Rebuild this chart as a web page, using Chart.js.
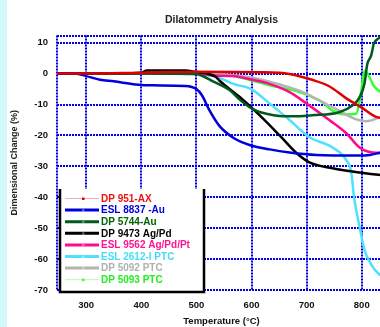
<!DOCTYPE html>
<html>
<head>
<meta charset="utf-8">
<script src="https://cdn.jsdelivr.net/npm/chart.js@4"></script>
<style>
    html, body { margin: 0; padding: 0; width: 380px; height: 327px; overflow: hidden; background: #fff; }
    #strip { position: absolute; left: 0; top: 0; width: 7px; height: 327px; background: #d2f8fc; }
    #wrap { position: absolute; left: 0; top: 0; width: 386px; height: 327px; }
</style>
</head>
<body>
<div id="strip"></div>
<div id="wrap"><canvas id="chart" width="386" height="327"></canvas></div>
<script>
// ── Datos (temperatura °C, cambio dimensional %) ─────────────────────────
const seriesNames = ['DP 951-AX', 'ESL 8837 -Au', 'DP 5744-Au', 'DP 9473 Ag/Pd',
    'ESL 9562 Ag/Pd/Pt', 'ESL 2612-I PTC', 'DP 5092 PTC', 'DP 5093 PTC'];

const dp951 = [[247,0],[300,0],[400,0.3],[500,0.6],[650,0.3],[680,-0.5],[710,-2],[740,-4],[772,-8],[800,-11],[826,-14],[844,-14.5]];
const esl8837 = [[247,0],[280,0],[300,-0.8],[325,-2],[350,-2.5],[390,-3.5],[420,-3.8],[480,-4],[500,-5],[510,-7],[524,-12],[542,-17],[569,-21],[595,-23],[633,-24.5],[669,-25.5],[718,-26.3],[790,-26.5],[815,-26.3],[835,-25.5],[844,-25.3]];
const dp5744 = [[247,0],[400,0],[500,-0.2],[509,-0.6],[530,-2.5],[560,-5.3],[579,-8.5],[602,-11.5],[627,-13],[651,-13.7],[687,-13.8],[710,-13.5],[759,-12.5],[783,-10.3],[796,-7.7],[805,-3.2],[810,3],[817,5.8],[822,9.7],[832,11.6],[844,14]];
const dp9473 = [[247,0],[300,0],[400,0.3],[410,1],[480,1],[500,0.5],[520,0],[535,-1],[542,-2.3],[578,-7.5],[615,-13.5],[651,-20],[681,-25.6],[705,-28.7],[747,-30.6],[796,-32],[835,-32.8],[844,-32.9]];
const esl9562 = [[247,0],[440,0],[500,0],[530,-0.6],[566,-0.8],[597,-1.8],[627,-3],[669,-6],[700,-9.7],[741,-15],[772,-19.3],[796,-23.9],[819,-25.5],[844,-25.7]];
const esl2612 = [[247,0],[400,0],[500,0],[520,-0.5],[542,-1.4],[570,-3.5],[597,-4.8],[633,-9.7],[669,-15],[705,-20.6],[747,-23.9],[772,-28],[781,-32],[786,-40],[796,-49.5],[805,-57],[817,-61.7],[832,-65],[844,-66]];
const dp5092 = [[247,0],[500,0],[550,-0.3],[602,-1.3],[651,-3.5],[687,-5.5],[710,-7.5],[754,-11.5],[790,-14.8],[808,-15.4],[835,-14],[844,-13.5]];
const dp5093 = [[247,0],[500,0],[550,-0.3],[578,-1.2],[627,-3.5],[687,-6],[729,-9.3],[747,-12],[772,-13.2],[790,-13],[797,-8],[806,1],[815,-1.5],[822,-4],[835,-6],[844,-6.5]];

const xTicks = [300, 400, 500, 600, 700, 800];
const yTicks = [-70, -60, -50, -40, -30, -20, -10, 0, 10];

// ── Estilos ──────────────────────────────────────────────────────────────
const allSeries = [dp951, esl8837, dp5744, dp9473, esl9562, esl2612, dp5092, dp5093];
const lineColors = ['#e00000', '#0000dd', '#005a1e', '#000000', '#ff0a8c', '#4de1ff', '#b4b4b4', '#33ff33'];
const textColors = ['#ee1111', '#0000dd', '#006400', '#000000', '#ff1493', '#44ddf8', '#b0b0b0', '#22ee22'];
const legendLine = ['#f4b0b0', '#0000dd', '#005a1e', '#000000', '#ff0a8c', '#4de1ff', '#b4b4b4', '#b8f8b8'];
const legendWidth = [1, 3, 3, 3, 3, 3, 3, 1];
const gridBlue = '#0000e6';
const FONT = "'Liberation Sans', Arial, sans-serif";

// Leyenda dentro del área del gráfico
const insideLegend = {
    id: 'insideLegend',
    afterDraw(chart) {
        const ctx = chart.ctx;
        const ca = chart.chartArea;
        const x0 = ca.left + 2, y0 = 189, x1 = 205, y1 = ca.bottom + 3;
        ctx.save();
        ctx.fillStyle = '#fff';
        ctx.fillRect(x0, y0, x1 - x0, y1 - y0);
        ctx.strokeStyle = '#000';
        ctx.lineWidth = 2.5;
        ctx.beginPath();
        ctx.moveTo(x0 + 1, y0);
        ctx.lineTo(x0 + 1, y1 - 1);
        ctx.lineTo(x1 - 1, y1 - 1);
        ctx.lineTo(x1 - 1, y0);
        ctx.stroke();
        ctx.font = 'bold 10px ' + FONT;
        ctx.textBaseline = 'middle';
        chart.data.datasets.forEach((ds, i) => {
            const y = y0 + 9.5 + i * 11.6;
            ctx.strokeStyle = legendLine[i];
            ctx.lineWidth = legendWidth[i];
            ctx.beginPath();
            ctx.moveTo(65, y);
            ctx.lineTo(99, y);
            ctx.stroke();
            ctx.fillStyle = i === 0 || i === 7 ? ds.borderColor : 'rgba(255,255,255,0.35)';
            ctx.fillRect(82, y - 1, 2.5, 2.5);
            ctx.fillStyle = textColors[i];
            ctx.fillText(ds.label, 101, y + 0.5);
        });
        ctx.restore();
    }
};

const datasets = allSeries.map((s, i) => ({
    label: seriesNames[i],
    data: s.map(p => ({ x: p[0], y: p[1] })),
    borderColor: lineColors[i],
    borderWidth: 2.5,
    pointRadius: 0,
    cubicInterpolationMode: 'monotone',
    fill: false
}));

new Chart(document.getElementById('chart'), {
    type: 'line',
    data: { datasets },
    options: {
        responsive: false,
        animation: false,
        layout: { padding: 0 },
        plugins: {
            legend: { display: false },
            tooltip: { enabled: false },
            title: {
                display: true,
                text: 'Dilatommetry Analysis',
                fullSize: false,
                color: '#222',
                font: { family: FONT, size: 10.5, weight: 'bold' },
                padding: { top: 14, bottom: 9 }
            }
        },
        scales: {
            x: {
                type: 'linear',
                min: 247,
                max: 844,
                afterBuildTicks: s => { s.ticks = [{ value: s.min }].concat(xTicks.map(v => ({ value: v }))); },
                afterFit: s => { s.height = 37; },
                ticks: {
                    padding: 10,
                    color: '#111',
                    font: { family: FONT, size: 9.5, weight: 'bold' },
                    callback: v => xTicks.includes(v) ? String(v) : ''
                },
                grid: { color: gridBlue, lineWidth: 2, drawTicks: false },
                border: { display: false, dash: [2, 1] },
                title: {
                    display: true,
                    text: 'Temperature (°C)',
                    color: '#111',
                    font: { family: FONT, size: 9.5, weight: 'bold' },
                    padding: { top: 0, bottom: 0 }
                }
            },
            y: {
                min: -70,
                max: 12.3,
                afterBuildTicks: s => { s.ticks = yTicks.map(v => ({ value: v })).concat([{ value: s.max }]); },
                afterFit: s => { s.width = 57; },
                ticks: {
                    padding: 9,
                    color: '#111',
                    font: { family: FONT, size: 9.5, weight: 'bold' },
                    callback: v => yTicks.includes(v) ? String(v) : ''
                },
                grid: { color: gridBlue, lineWidth: 2, drawTicks: false },
                border: { display: false, dash: [2, 1] },
                title: {
                    display: true,
                    text: 'Dimensional Change (%)',
                    color: '#222',
                    font: { family: FONT, size: 9, weight: 'bold' },
                    padding: { top: 9, bottom: 0 }
                }
            }
        }
    },
    plugins: [insideLegend]
});
</script>
</body>
</html>
